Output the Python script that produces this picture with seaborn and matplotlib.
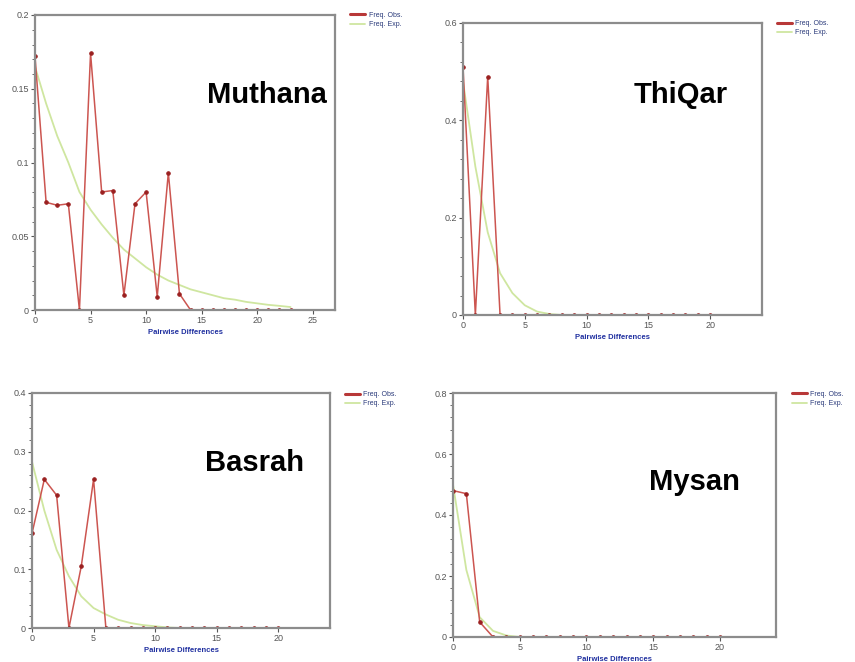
import numpy as np
import pandas as pd
import matplotlib
matplotlib.use("Agg")
import matplotlib.pyplot as plt
import seaborn as sns
from matplotlib.lines import Line2D
from matplotlib.ticker import AutoMinorLocator, FuncFormatter

# Mismatch distributions: observed vs expected frequencies per pairwise differences
muthana_x = list(range(0, 24))
muthana_obs = [0.172, 0.073, 0.071, 0.072, 0.0, 0.174, 0.080, 0.081, 0.010, 0.072,
               0.080, 0.009, 0.093, 0.011, 0, 0, 0, 0, 0, 0, 0, 0, 0, 0]
muthana_exp = [0.165, 0.140, 0.118, 0.100, 0.080, 0.068, 0.058, 0.049, 0.041, 0.035,
               0.029, 0.024, 0.020, 0.017, 0.014, 0.012, 0.010, 0.008, 0.007, 0.0055,
               0.0045, 0.0035, 0.0028, 0.002]

thiqar_x = list(range(0, 21))
thiqar_obs = [0.51, 0.0, 0.49, 0.0, 0, 0, 0, 0, 0, 0, 0, 0, 0, 0, 0, 0, 0, 0, 0, 0, 0]
thiqar_exp = [0.48, 0.305, 0.17, 0.086, 0.045, 0.02, 0.007, 0.002, 0, 0, 0, 0, 0, 0,
              0, 0, 0, 0, 0, 0, 0]

basrah_x = list(range(0, 21))
basrah_obs = [0.161, 0.253, 0.226, 0.0, 0.105, 0.253, 0.0, 0, 0, 0, 0, 0, 0, 0, 0,
              0, 0, 0, 0, 0, 0]
basrah_exp = [0.283, 0.20, 0.133, 0.088, 0.054, 0.034, 0.023, 0.014, 0.0085, 0.005,
              0.003, 0.001, 0, 0, 0, 0, 0, 0, 0, 0, 0]

mysan_x = list(range(0, 21))
mysan_obs = [0.48, 0.47, 0.049, 0, 0, 0, 0, 0, 0, 0, 0, 0, 0, 0, 0, 0, 0, 0, 0, 0, 0]
mysan_exp = [0.50, 0.22, 0.065, 0.02, 0.005, 0, 0, 0, 0, 0, 0, 0, 0, 0, 0, 0, 0, 0,
             0, 0, 0]

panels = [
    # name, x, obs, exp, rect (fig px), xmax, ymax, ystep, title pos (fig px)
    ("Muthana", muthana_x, muthana_obs, muthana_exp, (35, 15, 335, 310), 27, 0.2, 0.05, (267, 95)),
    ("ThiQar", thiqar_x, thiqar_obs, thiqar_exp, (463, 23, 762, 315), 24.2, 0.6, 0.2, (681, 95)),
    ("Basrah", basrah_x, basrah_obs, basrah_exp, (32, 393, 330, 628), 24.2, 0.4, 0.1, (254, 463)),
    ("Mysan", mysan_x, mysan_obs, mysan_exp, (453, 393, 776, 637), 24.2, 0.8, 0.2, (694, 482)),
]

sns.set_style("white")
plt.rcParams['font.family'] = ['Liberation Sans', 'DejaVu Sans']

W, H = 855, 662
fig = plt.figure(figsize=(W / 100, H / 100), dpi=100)

OBS_COLOR = "#cc5550"
EXP_COLOR = "#cfe6a0"
FRAME = "#8c8c8c"

for name, xs, obs, exp, (l, t, r, b), xmax, ymax, ystep, (tx, ty) in panels:
    ax = fig.add_axes([l / W, 1 - b / H, (r - l) / W, (b - t) / H])
    df = pd.DataFrame({"x": xs, "obs": obs, "exp": exp})

    sns.lineplot(data=df, x="x", y="exp", ax=ax, color=EXP_COLOR, lw=1.3)
    sns.lineplot(data=df, x="x", y="obs", ax=ax, color=OBS_COLOR, lw=1.1,
                 marker="o", markersize=2.5, markerfacecolor="#9a2020",
                 markeredgecolor="#9a2020")

    ax.set_xlim(0, xmax)
    ax.set_ylim(0, ymax)
    ax.set_xticks(np.arange(0, 21 if xmax < 25 else 26, 5))
    ax.set_yticks(np.arange(0, ymax + ystep / 2, ystep))
    ax.yaxis.set_minor_locator(AutoMinorLocator(5))
    ax.yaxis.set_major_formatter(FuncFormatter(lambda v, p: f"{v:g}"))
    ax.tick_params(axis="both", which="major", length=3, width=0.8,
                   labelsize=6.5, colors="#555555", direction="out", pad=1.5,
                   left=True, bottom=True)
    ax.tick_params(axis="y", which="minor", length=2, width=0.6, colors="#555555", left=True)

    for sp in ax.spines.values():
        sp.set_color(FRAME)
        sp.set_linewidth(1.6)

    ax.set_xlabel("Pairwise Differences", fontsize=5.5, color="#2030a0",
                  fontweight="bold", labelpad=3)
    ax.set_ylabel("")

    handles = [Line2D([], [], color="#b83838", lw=2.2),
               Line2D([], [], color=EXP_COLOR, lw=1.3)]
    leg = ax.legend(handles, ["Freq. Obs.", "Freq. Exp."], loc="upper left",
                    bbox_to_anchor=(1.04, 1.02), frameon=False, fontsize=5,
                    handlelength=2.2, handletextpad=0.5, labelspacing=0.3,
                    borderaxespad=0)
    for txt in leg.get_texts():
        txt.set_color("#2a3a7a")

    fig.text(tx / W, 1 - ty / H, name, fontsize=21, fontweight="bold",
             ha="center", va="center", color="black")

fig.savefig("out.png", dpi=100)
